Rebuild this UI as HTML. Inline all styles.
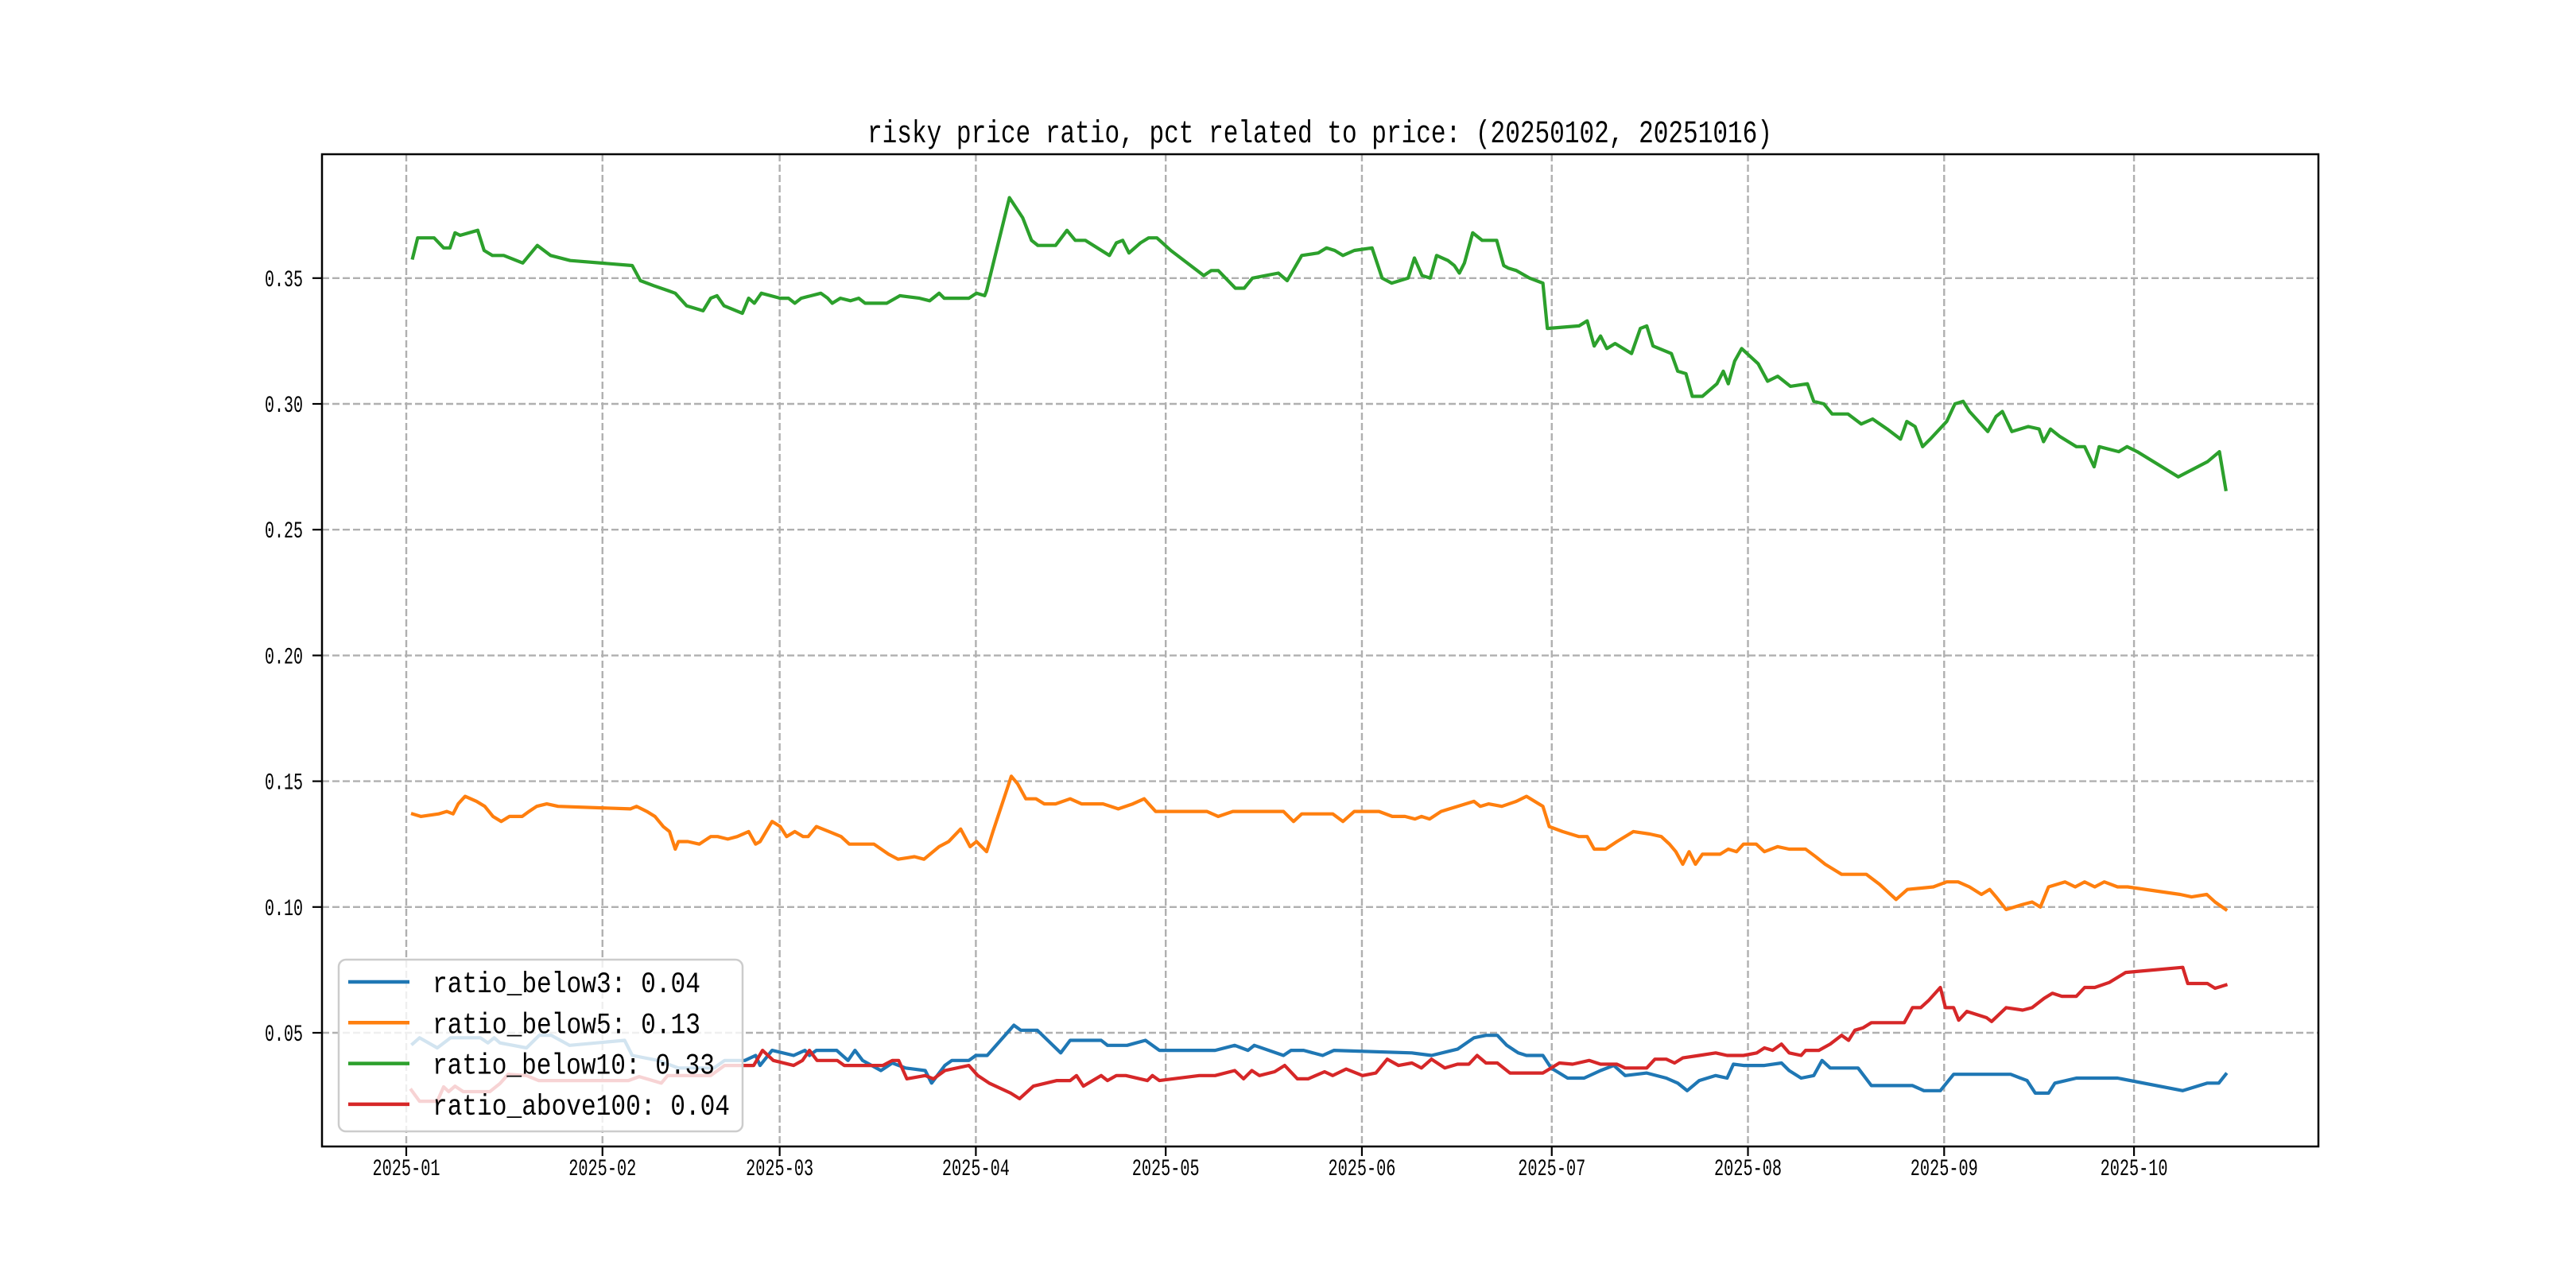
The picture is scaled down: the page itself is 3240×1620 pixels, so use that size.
<!DOCTYPE html>
<html><head><meta charset="utf-8"><style>
html,body{margin:0;padding:0;background:#fff}
svg{display:block}
text{font-family:"Liberation Mono","DejaVu Sans Mono",monospace;fill:#000}
</style></head><body>
<svg id="chart" width="3240" height="1620" viewBox="0 0 3240 1620" xmlns="http://www.w3.org/2000/svg">
<rect x="0" y="0" width="3240" height="1620" fill="#fff"/>
<text x="1660" y="179" text-anchor="middle" font-size="40" textLength="1138" lengthAdjust="spacingAndGlyphs">risky price ratio, pct related to price: (20250102, 20251016)</text>
<g id="grid"></g>
<g id="series"></g>
<rect x="405" y="194" width="2511" height="1248" fill="none" stroke="#000" stroke-width="2.5"/>
<g id="ticks"></g>
<g id="legend"></g>
</svg>
<script>
const yTicks = [0.05, 0.10, 0.15, 0.20, 0.25, 0.30, 0.35];
const yTickLabels = ["0.05","0.10","0.15","0.20","0.25","0.30","0.35"];
const xTickDays = [0, 31, 59, 90, 120, 151, 181, 212, 243, 273];
const xTickLabels = ["2025-01","2025-02","2025-03","2025-04","2025-05","2025-06","2025-07","2025-08","2025-09","2025-10"];
const seriesNames = ["ratio_below3","ratio_below5","ratio_below10","ratio_above100"];
const legendLabels = ["ratio_below3: 0.04","ratio_below5: 0.13","ratio_below10: 0.33","ratio_above100: 0.04"];
const colors = ["#1f77b4","#ff7f0e","#2ca02c","#d62728"];
// days since 2025-01-01
const below3Days = [1,2.1,4.9,7.0,11.7,12.9,13.9,14.8,19.0,21.0,22.9,25.8,34.5,35.7,39.8,43.0,48.6,50.3,53.5,55.2,55.9,57.8,61.2,63.0,63.7,64.8,68.0,69.8,70.9,72.1,75.0,76.8,78.9,82.0,83.0,85.1,86.2,88.9,90.0,91.8,96.0,97.1,99.7,103.4,104.9,109.8,110.8,113.9,116.8,119.0,127.8,130.9,133.0,134.0,138.6,139.8,141.8,144.8,146.6,158.9,162,166.1,168.7,170.6,172.4,173.9,175.7,177.0,179.6,180.9,183.5,186.1,188.7,190.8,192.6,196.0,199.1,200.9,202.4,204.3,206.9,208.7,209.7,211.3,214.6,217.3,218.5,220.4,222.4,223.7,225.0,229.4,231.5,238.0,239.8,242.4,244.5,253.5,256.1,257.4,259.5,260.5,263.9,270.4,280.7,284.6,286.4,287.5];
const below3Vals = [0.0456,0.048,0.044,0.048,0.048,0.046,0.048,0.046,0.044,0.049,0.049,0.045,0.047,0.041,0.039,0.036,0.036,0.039,0.039,0.041,0.037,0.043,0.041,0.043,0.041,0.043,0.043,0.039,0.043,0.039,0.035,0.038,0.036,0.035,0.030,0.037,0.039,0.039,0.041,0.041,0.053,0.051,0.051,0.042,0.047,0.047,0.045,0.045,0.047,0.043,0.043,0.045,0.043,0.045,0.041,0.043,0.043,0.041,0.043,0.042,0.041,0.0435,0.048,0.049,0.049,0.045,0.042,0.041,0.041,0.036,0.032,0.032,0.035,0.037,0.033,0.034,0.032,0.030,0.027,0.031,0.033,0.032,0.0375,0.037,0.037,0.038,0.035,0.032,0.033,0.039,0.036,0.036,0.029,0.029,0.027,0.027,0.0335,0.0335,0.031,0.026,0.026,0.030,0.032,0.032,0.027,0.030,0.030,0.0335];
const below5Days = [1.0,2.3,5.1,6.4,7.4,8.2,9.3,11.1,12.4,13.7,15.0,16.3,18.3,19.4,20.6,22.2,24.0,35.4,36.4,38.0,39.3,40.6,41.6,42.5,43.0,44.5,46.3,48.1,49.2,50.8,52.3,54.1,55.2,55.9,57.8,59.1,60.1,61.4,62.7,63.5,64.8,66.8,68.7,70.0,73.9,76.2,77.7,80.3,81.8,84.2,85.7,87.6,89.1,90.1,91.7,92.7,95.6,96.6,97.9,99.5,100.8,102.6,104.9,106.7,110.1,112.5,114.8,116.6,118.4,126.5,128.3,130.6,138.6,140.2,141.5,146.4,148.0,149.8,153.7,155.8,157.8,159.4,160.4,161.7,163.5,166.1,168.7,169.7,171.0,173.1,175.4,177.0,178.3,179.6,180.6,182.7,185.3,186.6,187.7,189.5,191.3,193.9,196.5,198.3,199.6,200.6,201.7,202.7,203.7,204.8,207.6,208.9,210.2,211.3,213.3,214.6,216.7,218.5,221.1,222.7,224.2,226.8,230.7,232.8,235.4,237.2,241.3,243.4,245.2,247.0,248.9,250.2,251.2,252.8,255.4,256.9,258.2,259.5,262.1,263.7,265.2,266.8,268.3,270.4,272.0,280.3,282.1,284.5,285.8,287.5];
const below5Vals = [0.137,0.136,0.137,0.138,0.137,0.141,0.144,0.142,0.140,0.136,0.134,0.136,0.136,0.138,0.140,0.141,0.140,0.139,0.140,0.138,0.136,0.132,0.130,0.123,0.126,0.126,0.125,0.128,0.128,0.127,0.128,0.130,0.125,0.126,0.134,0.132,0.128,0.130,0.128,0.128,0.132,0.130,0.128,0.125,0.125,0.121,0.119,0.120,0.119,0.124,0.126,0.131,0.124,0.126,0.122,0.130,0.152,0.149,0.143,0.143,0.141,0.141,0.143,0.141,0.141,0.139,0.141,0.143,0.138,0.138,0.136,0.138,0.138,0.134,0.137,0.137,0.134,0.138,0.138,0.136,0.136,0.135,0.136,0.135,0.138,0.140,0.142,0.140,0.141,0.140,0.142,0.144,0.142,0.140,0.132,0.130,0.128,0.128,0.123,0.123,0.126,0.130,0.129,0.128,0.125,0.122,0.117,0.122,0.117,0.121,0.121,0.123,0.122,0.125,0.125,0.122,0.124,0.123,0.123,0.120,0.117,0.113,0.113,0.109,0.103,0.107,0.108,0.110,0.110,0.108,0.105,0.107,0.104,0.099,0.101,0.102,0.100,0.108,0.110,0.108,0.110,0.108,0.110,0.108,0.108,0.105,0.104,0.105,0.102,0.099];
const below10Days = [1.0,1.8,4.4,5.9,6.9,7.7,8.5,11.3,12.3,13.6,15.4,18.4,20.7,22.8,25.9,35.7,37.0,39.1,41.4,42.5,44.3,46.9,48.1,49.1,50.2,53.1,54.1,55.0,56.1,59.1,60.4,61.4,62.4,65.5,66.6,67.3,68.6,70.2,71.5,72.5,75.9,78.0,81.1,82.7,84.2,85.0,88.9,90.1,91.4,91.7,95.3,97.4,98.8,99.8,102.6,104.4,105.7,107.3,111.1,112.2,113.2,114.2,116.0,117.3,118.6,120.8,126.0,127.2,128.3,131.0,132.4,133.7,135.8,137.8,139.2,141.5,144.1,145.4,146.7,148.0,149.8,152.6,154.2,155.7,158.3,159.3,160.5,161.8,162.8,164.6,165.6,166.4,167.2,168.5,170.0,172.3,173.4,174.1,175.4,177.5,179.6,180.3,185.3,186.6,187.7,188.7,189.7,191.0,193.6,195.0,196.0,197.0,199.9,200.9,202.2,203.2,204.8,207.1,208.1,208.9,209.9,211.0,213.6,215.1,216.7,218.7,221.4,222.4,224.0,225.3,227.8,229.9,231.7,234.0,236.1,237.1,238.4,239.6,240.8,243.4,244.7,246.0,247.0,249.9,251.2,252.2,253.7,255.0,256.3,258.0,258.7,259.8,261.3,263.9,265.2,266.7,267.5,270.6,271.9,273.5,280.0,284.6,286.5,287.5];
const below10Vals = [0.358,0.366,0.366,0.362,0.362,0.368,0.367,0.369,0.361,0.359,0.359,0.356,0.363,0.359,0.357,0.355,0.349,0.347,0.345,0.344,0.339,0.337,0.342,0.343,0.339,0.336,0.342,0.340,0.344,0.342,0.342,0.340,0.342,0.344,0.342,0.340,0.342,0.341,0.342,0.340,0.340,0.343,0.342,0.341,0.344,0.342,0.342,0.344,0.343,0.345,0.382,0.374,0.365,0.363,0.363,0.369,0.365,0.365,0.359,0.364,0.365,0.360,0.364,0.366,0.366,0.361,0.351,0.353,0.353,0.346,0.346,0.350,0.351,0.352,0.349,0.359,0.360,0.362,0.361,0.359,0.361,0.362,0.350,0.348,0.350,0.358,0.351,0.350,0.359,0.357,0.355,0.352,0.356,0.368,0.365,0.365,0.355,0.354,0.353,0.350,0.348,0.330,0.331,0.333,0.323,0.327,0.322,0.324,0.320,0.330,0.331,0.323,0.320,0.313,0.312,0.303,0.303,0.308,0.313,0.308,0.317,0.322,0.316,0.309,0.311,0.307,0.308,0.301,0.300,0.296,0.296,0.292,0.294,0.290,0.286,0.293,0.291,0.283,0.286,0.293,0.300,0.301,0.297,0.289,0.295,0.297,0.289,0.290,0.291,0.290,0.285,0.290,0.287,0.283,0.283,0.275,0.283,0.281,0.283,0.281,0.271,0.277,0.281,0.266];
const above100Days = [0.8,2.1,4.9,5.9,6.7,7.7,9.0,13.2,14.8,16.1,19.0,20.9,35.1,36.8,40.3,41.3,48.1,50.3,54.9,56.3,58.0,61.2,62.6,63.7,64.9,68.1,69.2,75.3,76.8,77.8,79.1,82.0,83.3,85.1,88.9,90.3,92.1,95.5,96.9,99.1,102.8,104.9,105.9,107.0,109.8,110.8,112.2,113.7,117.1,117.9,119.0,125.3,127.8,130.9,132.3,133.6,134.8,137.2,138.8,140.8,142.5,145.1,146.4,148.5,151.1,153.2,155.0,156.8,158.9,160.4,162.0,164.1,166.1,167.9,169.2,170.6,172.4,174.4,179.6,180.9,182.2,184.3,186.9,188.7,191.3,192.6,196.0,197.3,199.1,200.4,201.7,204.3,206.9,208.7,211.3,213.4,214.6,215.9,217.3,218.5,220.4,221.1,223.2,225.0,226.8,227.9,228.9,230.2,231.5,236.7,238.0,239.3,240.6,242.4,243.2,244.5,245.3,246.6,249.7,250.5,252.8,255.4,256.9,258.8,260.1,261.6,263.9,265.2,266.8,269.1,271.7,280.7,281.5,284.6,285.8,287.5];
const above100Vals = [0.0272,0.0228,0.0228,0.0285,0.0266,0.0288,0.0266,0.0266,0.0298,0.0335,0.033,0.031,0.031,0.0326,0.030,0.033,0.033,0.037,0.037,0.043,0.039,0.037,0.039,0.043,0.039,0.039,0.037,0.037,0.039,0.039,0.0317,0.033,0.0317,0.035,0.037,0.033,0.030,0.026,0.0238,0.0288,0.031,0.031,0.033,0.0288,0.033,0.031,0.033,0.033,0.031,0.033,0.031,0.033,0.033,0.035,0.0317,0.035,0.033,0.0345,0.037,0.0317,0.0317,0.0345,0.033,0.0356,0.033,0.034,0.0395,0.037,0.038,0.036,0.0395,0.036,0.0375,0.0375,0.041,0.038,0.038,0.034,0.034,0.036,0.038,0.0375,0.039,0.0375,0.0375,0.036,0.036,0.0395,0.0395,0.038,0.040,0.041,0.042,0.041,0.041,0.042,0.044,0.043,0.0455,0.042,0.041,0.043,0.043,0.0455,0.049,0.047,0.051,0.052,0.054,0.054,0.060,0.060,0.063,0.068,0.060,0.060,0.055,0.0585,0.056,0.0545,0.060,0.059,0.060,0.0637,0.0657,0.0645,0.0645,0.068,0.068,0.070,0.074,0.076,0.0696,0.0696,0.0677,0.069];

const NS = "http://www.w3.org/2000/svg";
const L = 405, R = 2916, T = 194, B = 1442;
const X0 = 511, PXDAY = 7.96;
function xScale(d){ return X0 + d * PXDAY; }
function yScale(v){ return 1299 - (v - 0.05) / 0.05 * 158.2; }
function mk(tag, attrs, parent){ const e = document.createElementNS(NS, tag); for (const k in attrs) e.setAttribute(k, attrs[k]); parent.appendChild(e); return e; }

const grid = document.getElementById('grid');
const ticks = document.getElementById('ticks');
yTicks.forEach((v, i) => {
  const y = yScale(v);
  const g = mk('line', {x1:L, x2:R, y1:y, y2:y, stroke:'#b0b0b0', 'stroke-width':2.4, 'stroke-dasharray':'9 4'}, grid);
  
  
  const t = mk('line', {x1:L-12, x2:L, y1:y, y2:y, stroke:'#000', 'stroke-width':2.2}, ticks);
  
  
  const lb = mk('text', {x:381, y:y+10, 'text-anchor':'end', 'font-size':30, textLength:48, lengthAdjust:'spacingAndGlyphs'}, ticks);
  lb.textContent = yTickLabels[i];
  
  
});
xTickDays.forEach((d, i) => {
  const x = xScale(d);
  const g = mk('line', {x1:x, x2:x, y1:T, y2:B, stroke:'#b0b0b0', 'stroke-width':2.4, 'stroke-dasharray':'9 4'}, grid);
  
  
  const t = mk('line', {x1:x, x2:x, y1:B, y2:B+12, stroke:'#000', 'stroke-width':2.2}, ticks);
  
  
  const lb = mk('text', {x:x, y:1478, 'text-anchor':'middle', 'font-size':30, textLength:85, lengthAdjust:'spacingAndGlyphs'}, ticks);
  lb.textContent = xTickLabels[i];
  
  
});

const seriesDays = [below3Days, below5Days, below10Days, above100Days];
const seriesVals = [below3Vals, below5Vals, below10Vals, above100Vals];
const sg = document.getElementById('series');
seriesDays.forEach((days, s) => {
  const vals = seriesVals[s];
  const n = Math.min(days.length, vals.length);
  let d = '';
  for (let i = 0; i < n; i++) d += (i ? 'L' : 'M') + xScale(days[i]).toFixed(1) + ',' + yScale(vals[i]).toFixed(1);
  const p = mk('path', {d:d, fill:'none', stroke:colors[s], 'stroke-width':4.2, 'stroke-linejoin':'round', 'stroke-linecap':'square'}, sg);
  
  
});

const lg = document.getElementById('legend');
const box = mk('rect', {x:426, y:1207, width:508, height:216, rx:9, fill:'#fff', 'fill-opacity':0.8, stroke:'#cccccc', 'stroke-width':2.5}, lg);


legendLabels.forEach((lab, i) => {
  const cy = 1235 + i * 51.3;
  const ln = mk('line', {x1:438, x2:515, y1:cy, y2:cy, stroke:colors[i], 'stroke-width':4.5}, lg);
  
  
  const t = mk('text', {x:544, y:cy+13, 'font-size':37, textLength:(lab.length*18.7).toFixed(0), lengthAdjust:'spacingAndGlyphs'}, lg);
  t.textContent = lab;
  
  
});
</script>
</body></html>
